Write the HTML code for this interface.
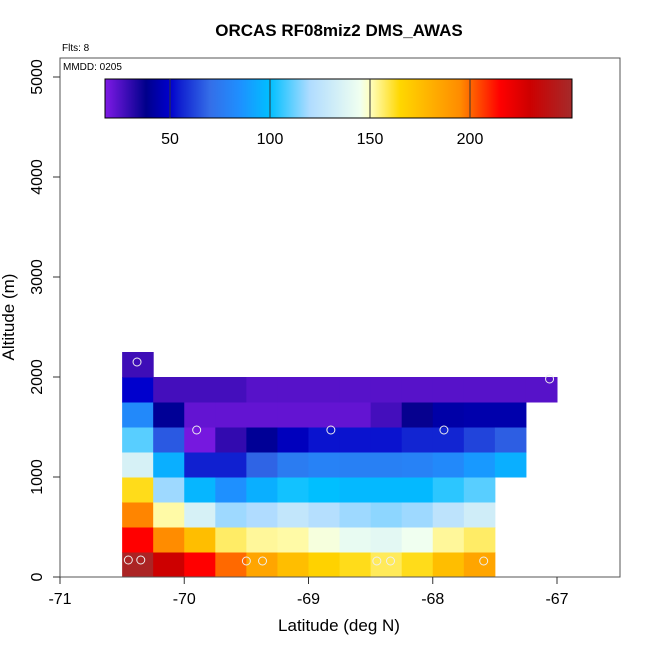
<!DOCTYPE html>
<html><head><meta charset="utf-8"><style>body{margin:0;background:#fff}svg{display:block;font-family:"Liberation Sans",sans-serif}</style></head>
<body>
<svg id="c" width="650" height="650"></svg>
<script>
const lonStart=-70.5, lonStep=0.25, altStep=250;
const row0=[248,230,215,200,185,175,167,163,158,163,175,185];
const row1=[215,195,175,157,153,152,147,142,140,145,153,157];
const row2=[196,152,135,118,120,127,122,118,116,118,125,132];
const row3=[163,118,97,85,95,102,100,98,98,98,105,110];
const row4=[135,95,55,55,68,76,79,78,78,79,82,88,95];
const row5=[110,66,19,30,40,47,53,53,53,56,56,62,67];
const row6=[82,40,22,22,22,22,22,22,27,37,43,44,44];
const row7=[50,27,27,27,24,24,24,24,24,24,24,24,24,24];
const row8=[28];
const rows=[row0,row1,row2,row3,row4,row5,row6,row7,row8];
const ptLon=[-70.45,-70.35,-69.5,-69.37,-68.45,-68.34,-67.59,-69.9,-68.82,-67.91,-70.38,-67.06];
const ptAlt=[170,170,160,160,160,160,160,1470,1470,1470,2150,1980];
const xTicks=[-71,-70,-69,-68,-67];
const yTicks=[0,1000,2000,3000,4000,5000];
const cbTicks=[50,100,150,200];
const X=v=>60+(v+71)*124.25, Y=a=>577-a*0.1;
const cbMin=17.5,cbMax=251, CB=v=>105+(v-cbMin)/(cbMax-cbMin)*467;
const stops=[[17.5,[127,26,230]],[38,[0,0,139]],[50,[0,0,205]],[55,[16,32,208]],[70,[52,110,232]],[85,[30,144,255]],[100,[0,191,255]],[120,[176,220,255]],[145,[240,255,240]],[150,[255,255,192]],[165,[255,215,0]],[195,[255,140,0]],[205,[255,69,0]],[215,[255,0,0]],[230,[205,0,0]],[251,[165,42,42]]];
function col(v){for(let i=1;i<stops.length;i++){if(v<=stops[i][0]){const a=stops[i-1],b=stops[i],t=(v-a[0])/(b[0]-a[0]);return 'rgb('+a[1].map((c,k)=>Math.round(c+(b[1][k]-c)*t)).join(',')+')';}}return 'rgb(165,42,42)';}
const s=document.getElementById('c'),NS='http://www.w3.org/2000/svg';
function el(t,a,p){const e=document.createElementNS(NS,t);for(const k in a)e.setAttribute(k,a[k]);(p||s).appendChild(e);return e;}
rows.forEach((r,ri)=>r.forEach((v,ci)=>{const x0=X(lonStart+ci*lonStep),x1=X(lonStart+(ci+1)*lonStep);
const e=el('rect',{x:x0,y:Y((ri+1)*altStep),width:x1-x0+0.5,height:25.5,fill:col(v)});

}));
ptLon.forEach((l,i)=>{const e=el('circle',{cx:X(l),cy:Y(ptAlt[i]),r:4,fill:'none',stroke:'#eee','stroke-width':1});

});
const box=el('rect',{x:60,y:58,width:560,height:519,fill:'none',stroke:'#555'});


xTicks.forEach(v=>{el('line',{x1:X(v),x2:X(v),y1:577,y2:584,stroke:'#333'});const t=el('text',{x:X(v),y:604,'font-size':16,'text-anchor':'middle'});t.textContent=v;

});
yTicks.forEach(v=>{el('line',{x1:53,x2:60,y1:Y(v),y2:Y(v),stroke:'#333'});const t=el('text',{x:42,y:Y(v),'font-size':16,'text-anchor':'middle',transform:`rotate(-90 42 ${Y(v)})`});t.textContent=v;

});
const g=el('linearGradient',{id:'gr',x1:0,x2:1,y1:0,y2:0},el('defs',{}));
stops.forEach(st=>el('stop',{offset:(st[0]-cbMin)/(cbMax-cbMin),'stop-color':col(st[0])},g));
const cb=el('rect',{x:105,y:79,width:467,height:39,fill:'url(#gr)',stroke:'#000'});


cbTicks.forEach(v=>{el('line',{x1:CB(v),x2:CB(v),y1:79,y2:118,stroke:'#333'});const t=el('text',{x:CB(v),y:144,'font-size':16,'text-anchor':'middle'});t.textContent=v;

});
</script>
<svg width="650" height="650" style="position:absolute;left:0;top:0">
<text x="339" y="36" font-size="17" font-weight="bold" text-anchor="middle" font-family="Liberation Sans,sans-serif">ORCAS RF08miz2 DMS_AWAS</text>
<text x="62" y="51" font-size="10" font-family="Liberation Sans,sans-serif">Flts: 8</text>
<text x="63" y="70" font-size="10" font-family="Liberation Sans,sans-serif">MMDD: 0205</text>
<text x="339" y="631" font-size="17" text-anchor="middle" font-family="Liberation Sans,sans-serif">Latitude (deg N)</text>
<text x="14" y="317" font-size="17" text-anchor="middle" transform="rotate(-90 14 317)" font-family="Liberation Sans,sans-serif">Altitude (m)</text>
</svg>
</body></html>
